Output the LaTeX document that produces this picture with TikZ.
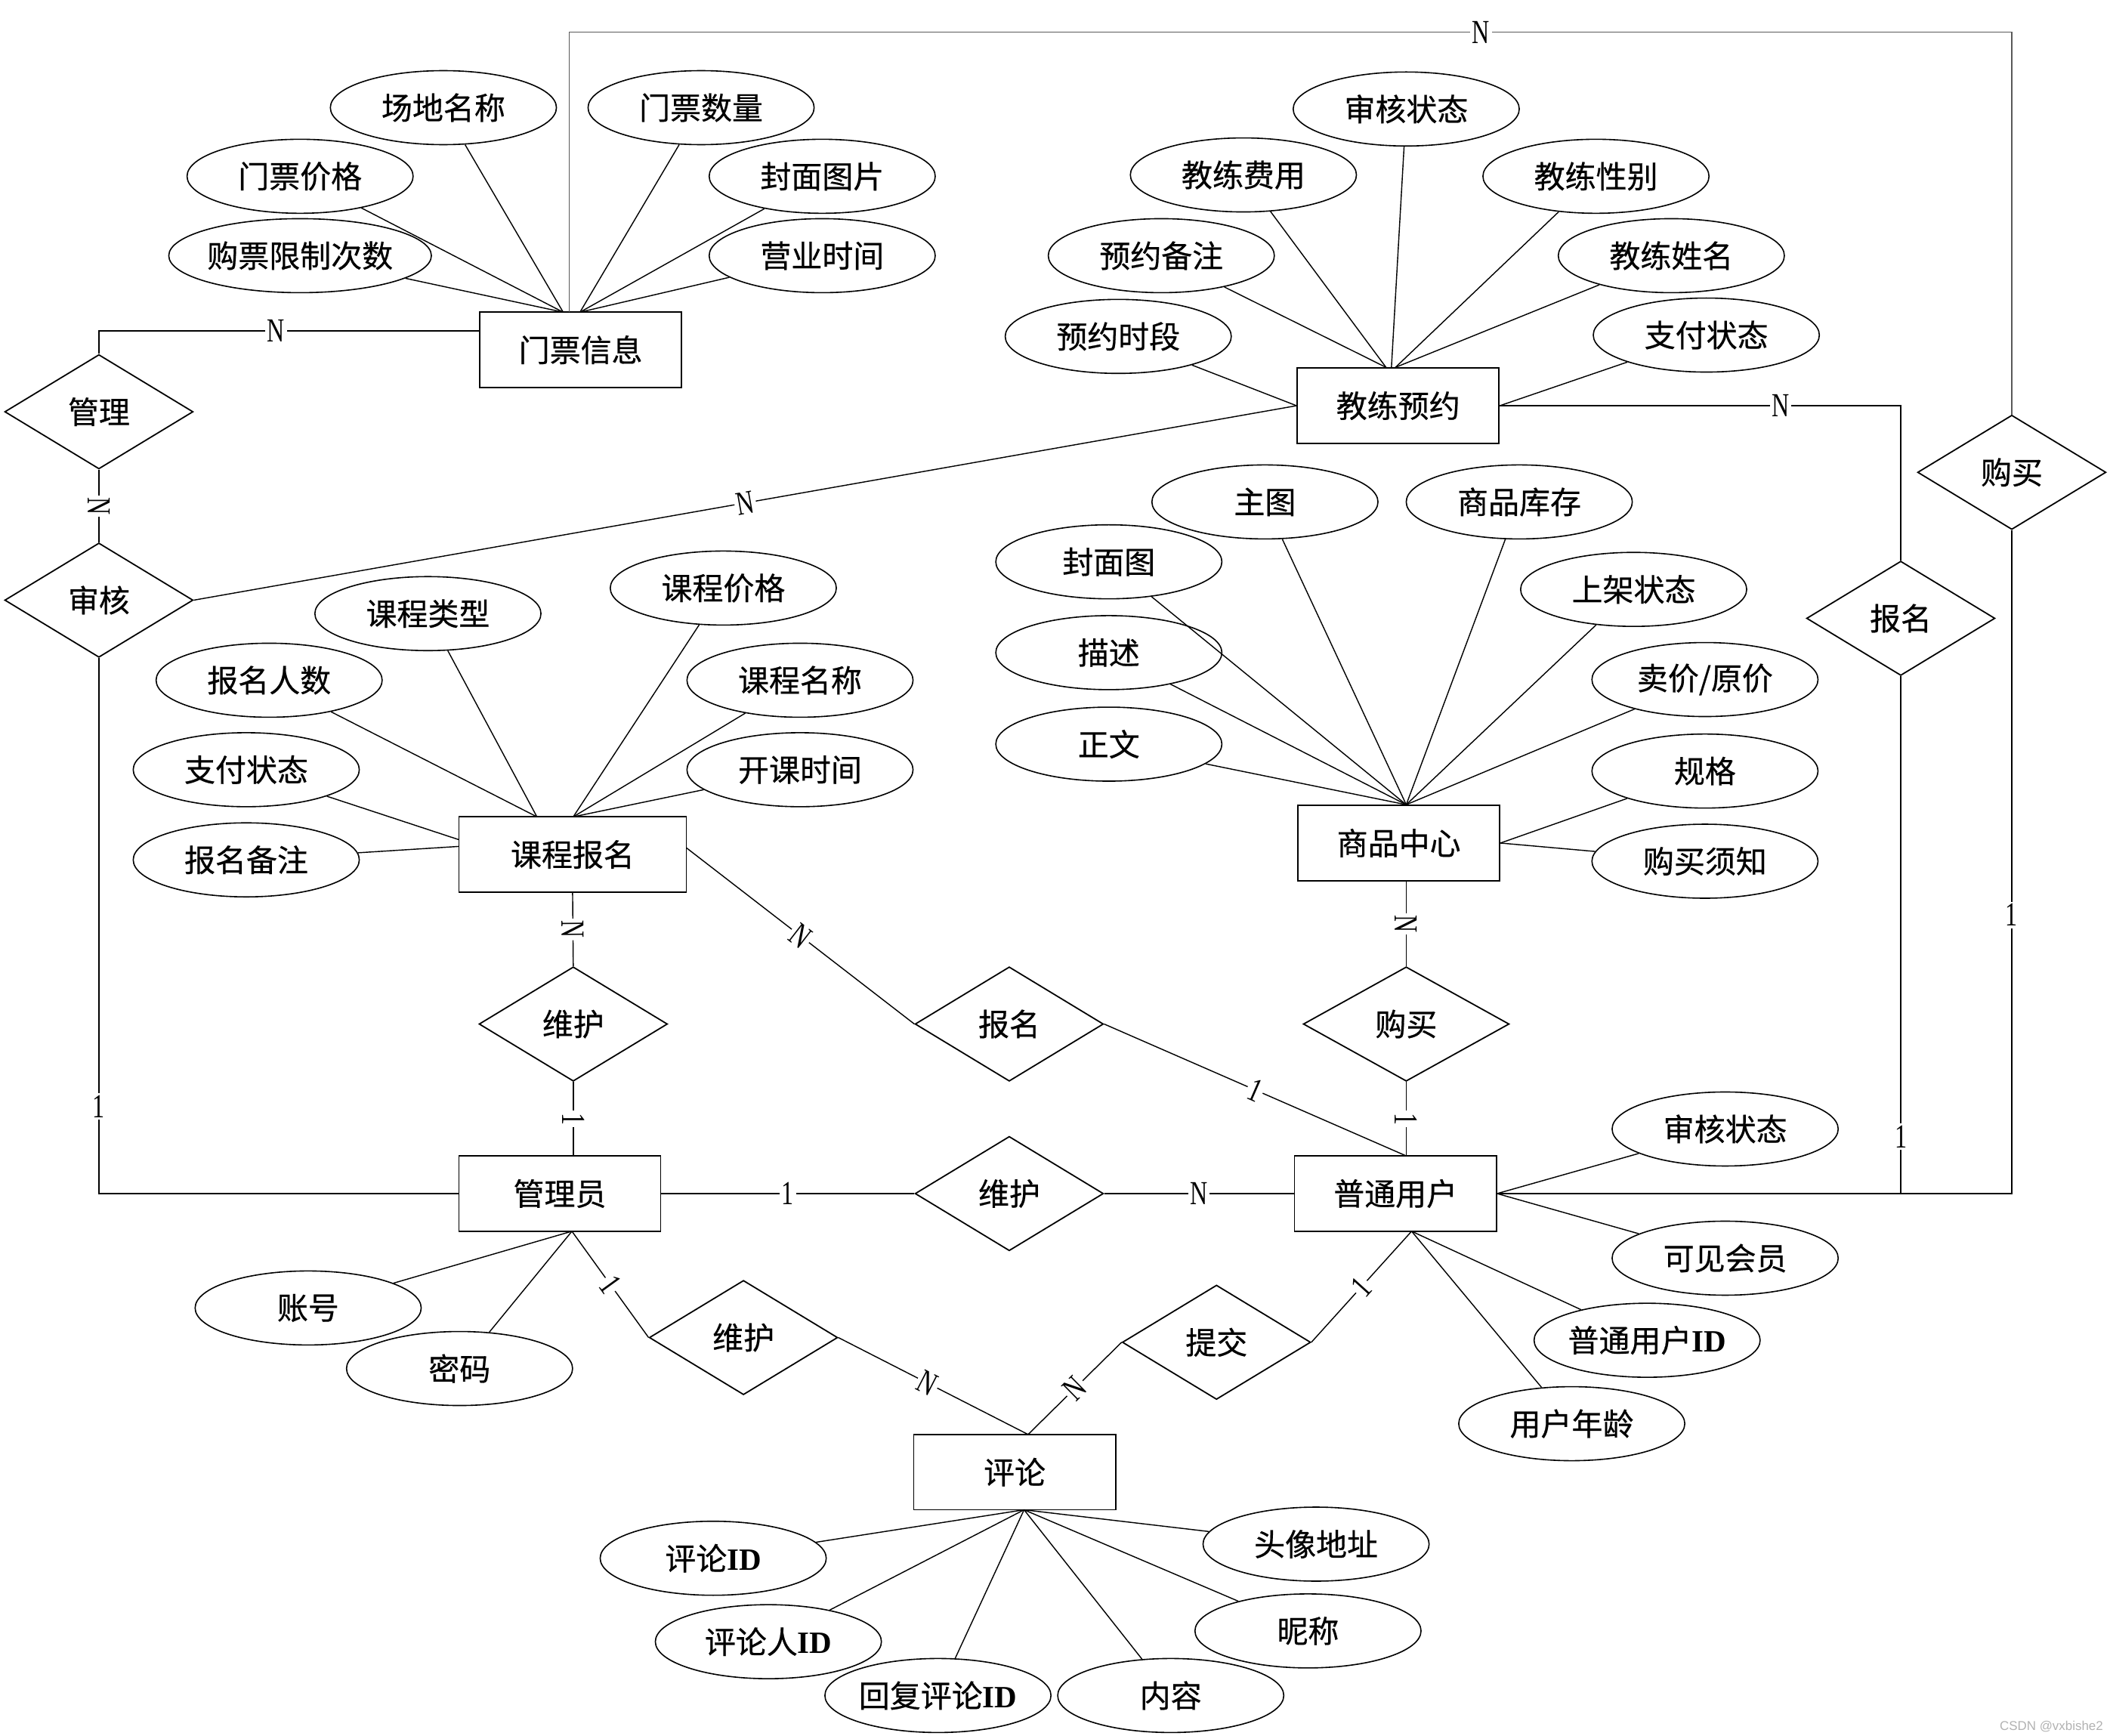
\documentclass[tikz,border=0pt]{standalone}
\usepackage{fontspec}
\usepackage{graphicx}
\setmainfont{Noto Sans CJK SC}[FakeBold=0.5]
\newfontfamily\lser{Liberation Serif}
\newfontfamily\wmfont{Liberation Sans}
\usetikzlibrary{shapes.geometric}
\newcommand{\lb}[1]{\scalebox{0.72}[1]{\lser #1}}
\newcommand{\IDt}{{\lser\bfseries ID}}
\begin{document}
\begin{tikzpicture}[x=1pt,y=-1pt,
  every node/.style={font=\fontsize{23}{27}\selectfont},
  ent/.style={draw, rectangle, line width=1pt, minimum width=150pt, minimum height=56pt, inner sep=0pt},
  rel/.style={draw, diamond, line width=1pt, minimum width=140pt, minimum height=85pt, inner sep=0pt},
  attr/.style={draw, ellipse, line width=0.9pt, minimum width=168pt, minimum height=55pt, inner sep=0pt},
  conn/.style={line width=0.8pt},
  loopline/.style={line width=0.8pt, draw=black!65},
  lab/.style={fill=white, inner sep=1.5pt, font=\fontsize{25}{25}\selectfont},
]
\fill[white] (0,0) rectangle (1568,1290);
\useasboundingbox (0,0) rectangle (1568,1290);

% entities
\node[ent] (tix) at (431.5,260) {门票信息};
\node[ent] (coach) at (1039,301.5) {教练预约};
\node[ent, minimum width=169pt] (course) at (425.5,635) {课程报名};
\node[ent] (goods) at (1039.5,626.5) {商品中心};
\node[ent] (admin) at (416,887) {管理员};
\node[ent] (user) at (1037,887) {普通用户};
\node[ent] (comment) at (754,1094) {评论};

% relationships
\node[rel] (rmanage) at (73.5,306) {管理};
\node[rel] (raudit) at (73.5,446) {审核};
\node[rel] (renroll2) at (1412.5,459.5) {报名};
\node[rel] (rbuy2) at (1495,351) {购买};
\node[rel] (rmaint1) at (426,761) {维护};
\node[rel] (renroll) at (750,761) {报名};
\node[rel, minimum width=153pt] (rbuy) at (1045,761) {购买};
\node[rel] (rmaint2) at (750,887) {维护};
\node[rel] (rmaint3) at (552.5,994) {维护};
\node[rel] (rsubmit) at (904,997.5) {提交};

% attributes of 门票信息
\node[attr] (t1) at (329.5,80) {场地名称};
\node[attr] (t2) at (521,80) {门票数量};
\node[attr] (t3) at (223,131) {门票价格};
\node[attr] (t4) at (611,131) {封面图片};
\node[attr] (t5) at (223,190) {购票限制次数};
\node[attr] (t6) at (611,190) {营业时间};

% attributes of 教练预约
\node[attr] (c1) at (1045,81) {审核状态};
\node[attr] (c2) at (924,130) {教练费用};
\node[attr] (c3) at (1186,131) {教练性别};
\node[attr] (c4) at (863,190) {预约备注};
\node[attr] (c5) at (1242,190) {教练姓名};
\node[attr] (c6) at (831,250) {预约时段};
\node[attr] (c7) at (1268,249) {支付状态};

% attributes of 商品中心
\node[attr] (g1) at (940,373) {主图};
\node[attr] (g2) at (1129,373) {商品库存};
\node[attr] (g3) at (824,417.5) {封面图};
\node[attr] (g4) at (1214,438) {上架状态};
\node[attr] (g5) at (824,485) {描述};
\node[attr] (g6) at (1267,505) {卖价/原价};
\node[attr] (g7) at (824,553) {正文};
\node[attr] (g8) at (1267,573) {规格};
\node[attr] (g9) at (1267,640) {购买须知};

% attributes of 课程报名
\node[attr] (k1) at (318,456) {课程类型};
\node[attr] (k2) at (537.5,437) {课程价格};
\node[attr] (k3) at (200,505.5) {报名人数};
\node[attr] (k4) at (594.5,505.5) {课程名称};
\node[attr] (k5) at (183,572) {支付状态};
\node[attr] (k6) at (594.5,572) {开课时间};
\node[attr] (k7) at (183,639) {报名备注};

% attributes of 管理员
\node[attr] (a1) at (229,972) {账号};
\node[attr] (a2) at (341.5,1017) {密码};

% attributes of 普通用户
\node[attr] (u1) at (1282,839) {审核状态};
\node[attr] (u2) at (1282,935) {可见会员};
\node[attr] (u3) at (1224,996) {普通用户\IDt};
\node[attr] (u4) at (1168,1058) {用户年龄};

% attributes of 评论
\node[attr] (p1) at (530,1158) {评论\IDt};
\node[attr] (p2) at (978,1147.5) {头像地址};
\node[attr] (p3) at (571,1220) {评论人\IDt};
\node[attr] (p4) at (972,1212) {昵称};
\node[attr] (p5) at (697,1260) {回复评论\IDt};
\node[attr] (p6) at (870,1260) {内容};

% junction coordinates
\coordinate (tixtop) at (423,232);
\coordinate (tixL) at (418.5,232);
\coordinate (tixR) at (431,232);
\coordinate (tixin) at (356.5,246);
\coordinate (manageUp) at (73.5,246);
\coordinate (auditDown) at (73.5,887);
\coordinate (loopL) at (423,24);
\coordinate (loopR) at (1495,24);
\coordinate (coachL) at (1030,273);
\coordinate (coachM) at (1034,273);
\coordinate (coachR) at (1037,273);
\coordinate (coachE2) at (1412.5,301.5);
\coordinate (enrollJ) at (1412.5,887);
\coordinate (userR) at (1495,887);
\coordinate (courseL) at (399,607);
\coordinate (courseR) at (426,607);
\coordinate (courseW1) at (341,624);
\coordinate (courseW2) at (341,629);
\coordinate (courseE) at (510,630);
\coordinate (goodsT) at (1045,598);
\coordinate (goodsB) at (1045,655);
\coordinate (adminT) at (426,859);
\coordinate (adminB) at (425,915);
\coordinate (userT) at (1045,859);
\coordinate (userB) at (1049,915);
\coordinate (commT) at (764,1066);
\coordinate (commB) at (761,1122);

% attribute lines
\foreach \a in {t1,t3,t5} \draw[conn] (\a) -- (tixL);
\foreach \a in {t2,t4,t6} \draw[conn] (\a) -- (tixR);
\foreach \a in {c2,c4} \draw[conn] (\a) -- (coachL);
\draw[conn] (c1) -- (coachM);
\foreach \a in {c3,c5} \draw[conn] (\a) -- (coachR);
\draw[conn] (c6) -- (coach.west);
\draw[conn] (c7) -- (coach.east);
\foreach \a in {g1,g2,g3,g4,g5,g6,g7} \draw[conn] (\a) -- (goodsT);
\foreach \a in {g8,g9} \draw[conn] (\a) -- (goods.east);
\foreach \a in {k1,k3} \draw[conn] (\a) -- (courseL);
\foreach \a in {k2,k4,k6} \draw[conn] (\a) -- (courseR);
\draw[conn] (k5) -- (courseW1);
\draw[conn] (k7) -- (courseW2);
\foreach \a in {a1,a2} \draw[conn] (\a) -- (adminB);
\foreach \a in {u1,u2} \draw[conn] (\a) -- (user.east);
\foreach \a in {u3,u4} \draw[conn] (\a) -- (userB);
\foreach \a in {p1,p2,p3,p4,p5,p6} \draw[conn] (\a) -- (commB);

% relationship lines
\draw[loopline] (tixtop) -- (loopL) -- node[lab,pos=0.632]{\lb{N}} (loopR) -- (rbuy2.north);
\draw[conn] (rmanage.north) -- (manageUp) -- node[lab,pos=0.465]{\lb{N}} (tixin);
\draw[conn] (rmanage.south) -- node[lab,sloped]{\lb{N}} (raudit.north);
\draw[conn] (raudit.south) -- node[lab,pos=0.837]{\lb{1}} (auditDown) -- (admin.west);
\draw[conn] (raudit.east) -- node[lab,sloped]{\lb{N}} (coach.west);
\draw[conn] (coach.east) -- node[lab,pos=0.7]{\lb{N}} (coachE2) -- (renroll2.north);
\draw[conn] (renroll2.south) -- node[lab,pos=0.89]{\lb{1}} (enrollJ);
\draw[conn] (user.east) -- (userR) -- node[lab,pos=0.42]{\lb{1}} (rbuy2.south);
\draw[conn] (course.south) -- node[lab,sloped]{\lb{N}} (rmaint1.north);
\draw[conn] (rmaint1.south) -- node[lab,sloped]{\lb{1}} (adminT);
\draw[conn] (courseE) -- node[lab,sloped]{\lb{N}} (renroll.west);
\draw[conn] (renroll.east) -- node[lab,sloped]{\lb{1}} (userT);
\draw[conn] (goodsB) -- node[lab,sloped]{\lb{N}} (rbuy.north);
\draw[conn] (rbuy.south) -- node[lab,sloped]{\lb{1}} (userT);
\draw[conn] (admin.east) -- node[lab]{\lb{1}} (rmaint2.west);
\draw[conn] (rmaint2.east) -- node[lab]{\lb{N}} (user.west);
\draw[conn] (adminB) -- node[lab,sloped]{\lb{1}} (rmaint3.west);
\draw[conn] (rmaint3.east) -- node[lab,sloped,pos=0.47]{\lb{N}} (commT);
\draw[conn] (commT) -- node[lab,sloped]{\lb{N}} (rsubmit.west);
\draw[conn] (rsubmit.east) -- node[lab,sloped]{\lb{1}} (userB);

% watermark
\node[anchor=east, text=black!30, font=\wmfont\fontsize{9.5}{10}\selectfont, inner sep=0pt] (wm) at (1563,1283) {CSDN @vxbishe2};
\end{tikzpicture}
\end{document}
